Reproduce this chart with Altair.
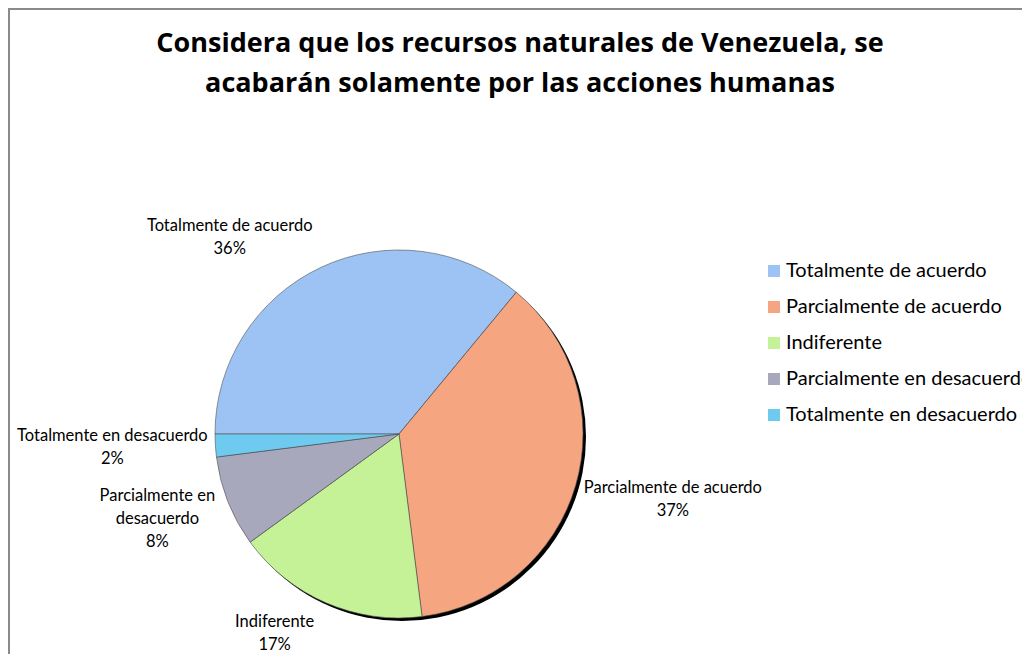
import math
import altair as alt
import pandas as pd

# ---- data ----
categorias = [
    "Totalmente de acuerdo",
    "Parcialmente de acuerdo",
    "Indiferente",
    "Parcialmente en desacuerdo",
    "Totalmente en desacuerdo",
]
porcentajes = [36, 37, 17, 8, 2]
rotulos = [
    "Totalmente de acuerdo",
    "Parcialmente de acuerdo",
    "Indiferente",
    "Parcialmente en|desacuerdo",
    "Totalmente en desacuerdo",
]
colores = ["#9CC3F3", "#F5A57F", "#C5F296", "#A8A8BD", "#6FCAEF"]
titulo = [
    "Considera que los recursos naturales de Venezuela, se",
    "acabarán solamente por las acciones humanas",
]

df = pd.DataFrame({
    "orden": list(range(len(categorias))),
    "categoria": categorias,
    "valor": porcentajes,
    "rotulo": rotulos,
})

W, H = 1014, 646
CX, CY = 391, 426
R = 184
R_LABEL = 205
FONT = "Lato"

start = 1.5 * math.pi
theta_scale = alt.Scale(domain=[0, 100], range=[start, start + 2 * math.pi])

base = alt.Chart(df).transform_window(
    acum="sum(valor)", sort=[alt.SortField("orden")], frame=[None, 0]
).transform_calculate(
    inicio="datum.acum - datum.valor",
    medio="datum.acum - datum.valor / 2",
    texto="split(datum.rotulo + '|' + datum.valor + '%', '|')",
)

shadow = alt.Chart(alt.Data(values=[{}])).mark_arc(
    theta=0, theta2=2 * math.pi, radius=R, color="black"
).encode(x=alt.value(CX + 3), y=alt.value(CY + 3))

pie = base.mark_arc(radius=R, stroke="#505050", strokeWidth=0.6).encode(
    theta=alt.Theta("inicio:Q", scale=theta_scale, stack=False),
    theta2="acum:Q",
    color=alt.Color(
        "categoria:N",
        scale=alt.Scale(domain=categorias, range=colores),
        sort=categorias,
        legend=alt.Legend(
            title=None,
            orient="none",
            legendX=756,
            legendY=253,
            symbolType="square",
            symbolSize=144,
            symbolStrokeWidth=0,
            labelFont=FONT,
            labelFontSize=20,
            labelColor="black",
            labelOffset=2,
            labelLimit=500,
            rowPadding=16,
        ),
    ),
    x=alt.value(CX),
    y=alt.value(CY),
)

desplazamientos = {
    "Totalmente de acuerdo": (-82, -23),
    "Parcialmente de acuerdo": (77, -3),
    "Indiferente": (-43, 0),
    "Parcialmente en desacuerdo": (-51, -13),
    "Totalmente en desacuerdo": (-82, -11),
}

labels = []
for cat in categorias:
    dx, dy = desplazamientos[cat]
    labels.append(
        base.transform_filter(alt.datum.categoria == cat).mark_text(
            align="center", baseline="middle", font=FONT, fontSize=16.5,
            lineHeight=23, color="black", dx=dx, dy=dy,
        ).encode(
            theta=alt.Theta("medio:Q", scale=theta_scale, stack=False),
            radius=alt.value(R_LABEL),
            text=alt.Text("texto:N"),
            x=alt.value(CX),
            y=alt.value(CY),
        )
    )

border_left = alt.Chart(alt.Data(values=[{}])).mark_rule(
    color="#8a8a8a", strokeWidth=2
).encode(x=alt.value(1), y=alt.value(0), y2=alt.value(H))
border_top = alt.Chart(alt.Data(values=[{}])).mark_rule(
    color="#8a8a8a", strokeWidth=2
).encode(x=alt.value(0), x2=alt.value(W), y=alt.value(1))

chart = alt.layer(shadow, pie, *labels, border_left, border_top).properties(
    width=W,
    height=H,
    autosize=alt.AutoSizeParams(type="none"),
    padding=0,
    title=alt.TitleParams(
        text=titulo,
        font="Open Sans",
        fontSize=27,
        fontWeight="bold",
        color="black",
        lineHeight=40,
        anchor="middle",
        baseline="alphabetic",
        offset=-112,
        dx=5,
    ),
).configure_view(stroke=None).configure(background="white")

chart.save("out.html", embed_options={"renderer": "svg", "actions": False})
